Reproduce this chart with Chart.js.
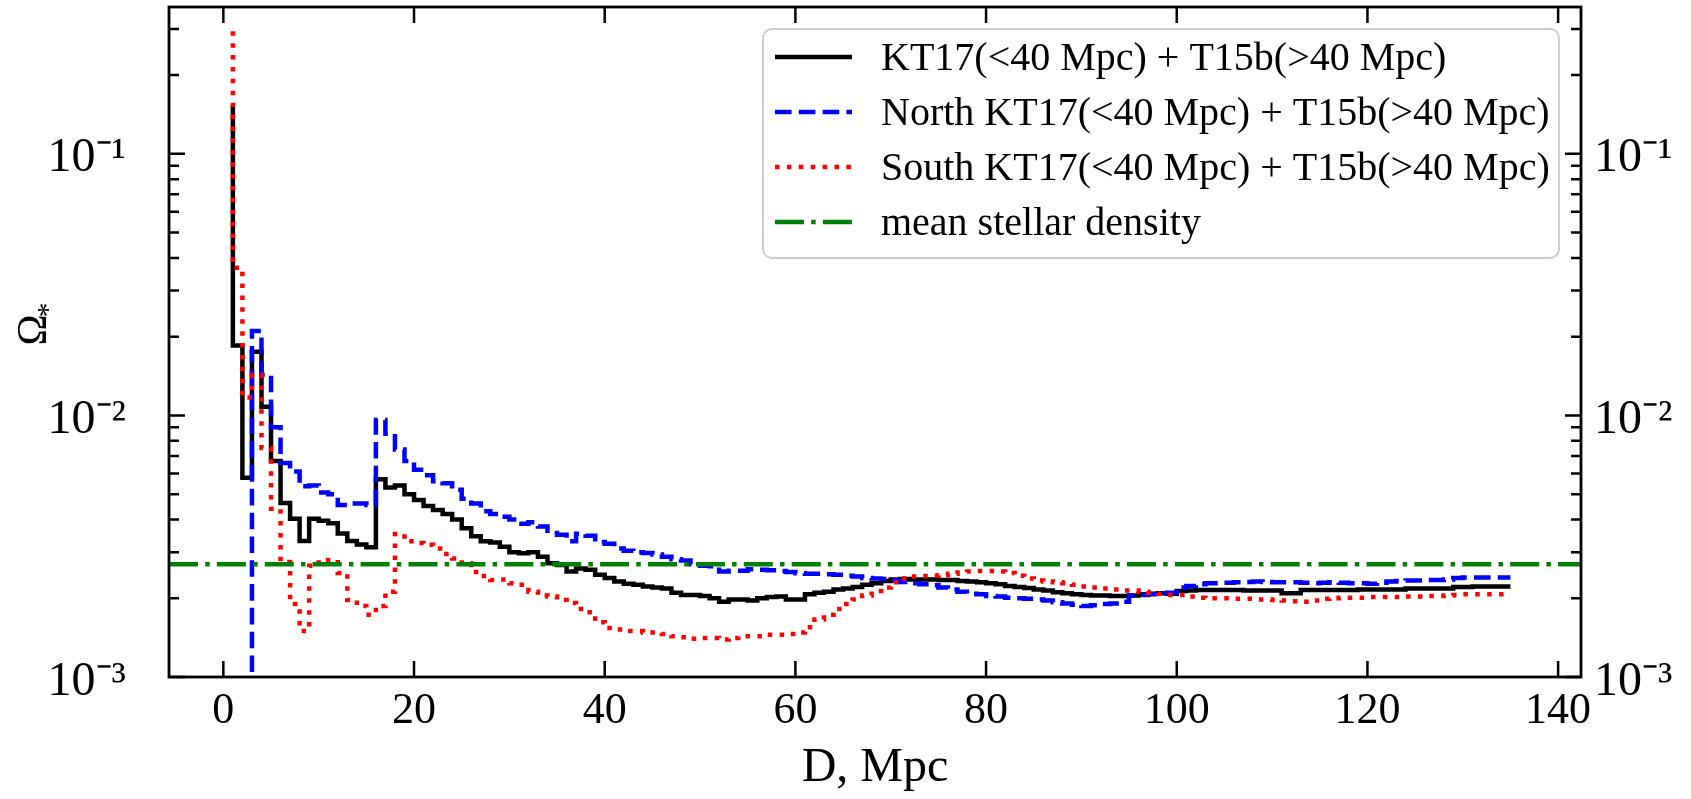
<!DOCTYPE html>
<html>
<head>
<meta charset="utf-8">
<script src="https://cdn.jsdelivr.net/npm/chart.js@4.4.0/dist/chart.umd.min.js"></script>
<style>
  html, body { margin: 0; padding: 0; background: #fff; }
  #densityChart { display: block; }
</style>
</head>
<body>
<canvas id="densityChart" width="1691" height="799"></canvas>
<script>
// distance bins, Mpc
const distances = [
  1, 2, 3, 4, 5, 6, 7, 8, 9, 10, 11, 12, 13, 14, 15, 16, 17, 18, 19, 20,
  21, 22, 23, 24, 25, 26, 27, 28, 29, 30, 31, 32, 33, 34, 35, 36, 37, 38, 39, 40,
  41, 42, 43, 44, 45, 46, 47, 48, 49, 50, 51, 52, 53, 54, 55, 56, 57, 58, 59, 60,
  61, 62, 63, 64, 65, 66, 67, 68, 69, 70, 71, 72, 73, 74, 75, 76, 77, 78, 79, 80,
  81, 82, 83, 84, 85, 86, 87, 88, 89, 90, 91, 92, 93, 94, 95, 96, 97, 98, 99, 100,
  101, 102, 103, 104, 105, 106, 107, 108, 109, 110, 111, 112, 113, 114, 115, 116, 117, 118, 119, 120,
  121, 122, 123, 124, 125, 126, 127, 128, 129, 130, 131, 132, 133, 134, 135
];

const allSky = [
  0.153, 0.0185, 0.00577, 0.0175, 0.0108, 0.0067, 0.00463, 0.00403, 0.00331, 0.00403,
  0.00396, 0.00387, 0.00354, 0.00331, 0.00321, 0.00313, 0.0057, 0.0053, 0.0054, 0.005,
  0.00475, 0.0045, 0.00435, 0.0042, 0.004, 0.0037, 0.00345, 0.0033, 0.00327, 0.00315,
  0.003, 0.00297, 0.003, 0.00288, 0.00272, 0.00268, 0.00253, 0.0026, 0.00257, 0.00246,
  0.00239, 0.00232, 0.00227, 0.00225, 0.00222, 0.0022, 0.00218, 0.0021, 0.00206, 0.00206,
  0.00204, 0.002, 0.00194, 0.00198, 0.00198, 0.00196, 0.002, 0.00202, 0.00203, 0.00198,
  0.00198, 0.00207, 0.0021, 0.00212, 0.00216, 0.00218, 0.00221, 0.00225, 0.00228, 0.00233,
  0.00236, 0.00237, 0.00236, 0.00236, 0.00236, 0.00235, 0.00235, 0.00233, 0.00232, 0.0023,
  0.00228, 0.00226, 0.00223, 0.00221, 0.00219, 0.00216, 0.00214, 0.00211, 0.00209, 0.00207,
  0.00206, 0.00205, 0.00205, 0.00204, 0.00204, 0.00205, 0.00207, 0.00208, 0.00209, 0.00208,
  0.00213, 0.00214, 0.00215, 0.00215, 0.00215, 0.00215, 0.00215, 0.00214, 0.00214, 0.00214,
  0.00214, 0.00209, 0.00209, 0.00215, 0.00215, 0.00215, 0.00215, 0.00215, 0.00215, 0.00216,
  0.00216, 0.00216, 0.00216, 0.00216, 0.00218, 0.00218, 0.00218, 0.00218, 0.00218, 0.00221,
  0.00221, 0.00222, 0.00222, 0.00222, 0.00222
];

// first bins of the north sample fall below the plotted range
const north = [
  0.0001, 0.0001, 0.0001, 0.021, 0.0143, 0.009, 0.00658, 0.0061, 0.00536, 0.0054,
  0.00507, 0.005, 0.00454, 0.0046, 0.0046, 0.00454, 0.0096, 0.0085, 0.0074, 0.0067,
  0.0062, 0.0059, 0.0056, 0.0055, 0.0052, 0.0048, 0.0046, 0.0043, 0.0042, 0.0041,
  0.004, 0.00385, 0.0039, 0.00376, 0.00355, 0.0035, 0.0033, 0.00353, 0.00347, 0.00328,
  0.00323, 0.0031, 0.00304, 0.003, 0.00298, 0.00294, 0.00288, 0.00282, 0.00279, 0.0027,
  0.00266, 0.00265, 0.00253, 0.00255, 0.00255, 0.00258, 0.00257, 0.00256, 0.00254, 0.00252,
  0.00249, 0.00248, 0.00248, 0.00247, 0.00246, 0.00244, 0.00242, 0.00239, 0.00238, 0.00237,
  0.00234, 0.00231, 0.00228, 0.00226, 0.00224, 0.0022, 0.00216, 0.00212, 0.00208, 0.00207,
  0.00204, 0.00203, 0.00201, 0.002, 0.00199, 0.00198, 0.00196, 0.00193, 0.00191, 0.00189,
  0.00187, 0.00188, 0.0019, 0.00191, 0.00194, 0.00205, 0.00206, 0.00207, 0.00209, 0.0021,
  0.0022, 0.00223, 0.00226, 0.00228, 0.00228, 0.00229, 0.0023, 0.00231, 0.00232, 0.00231,
  0.0023, 0.0023, 0.0023, 0.00229, 0.00228, 0.00229, 0.0023, 0.00229, 0.00228, 0.00228,
  0.00227, 0.00229, 0.00232, 0.00233, 0.00234, 0.00234, 0.00235, 0.00235, 0.00236, 0.00239,
  0.0024, 0.0024, 0.0024, 0.0024, 0.0024
];

const south = [
  0.294, 0.0367, 0.0117, 0.0143, 0.0075, 0.0044, 0.00275, 0.0019, 0.0015, 0.00266,
  0.0028, 0.0028, 0.0025, 0.00197, 0.00187, 0.00173, 0.00187, 0.00212, 0.00352, 0.0033,
  0.00325, 0.0032, 0.0031, 0.00295, 0.00284, 0.00272, 0.00252, 0.00243, 0.00235, 0.00236,
  0.00228, 0.00225, 0.00212, 0.00205, 0.00203, 0.00197, 0.00192, 0.00182, 0.00177, 0.00162,
  0.00154, 0.00152, 0.0015, 0.0015, 0.00148, 0.00148, 0.00146, 0.00143, 0.00142, 0.0014,
  0.00141, 0.00141, 0.00139, 0.00141, 0.00143, 0.00143, 0.00143, 0.00145, 0.00145, 0.00146,
  0.00148, 0.00155, 0.00166, 0.00173, 0.00182, 0.0019, 0.00198, 0.00205, 0.00213, 0.0022,
  0.0023, 0.00238, 0.00242, 0.00243, 0.00244, 0.00245, 0.00248, 0.00251, 0.00253, 0.00254,
  0.00254, 0.00253, 0.0025, 0.00244, 0.00238, 0.00234, 0.00232, 0.0023, 0.00228, 0.00225,
  0.00222, 0.0022, 0.00218, 0.00216, 0.00214, 0.00214, 0.00212, 0.0021, 0.00208, 0.00206,
  0.00206, 0.00203, 0.00201, 0.002, 0.002, 0.002, 0.00199, 0.00199, 0.00198, 0.00198,
  0.00197, 0.00196, 0.00195, 0.00194, 0.00196, 0.00199, 0.002, 0.00201, 0.00201, 0.00201,
  0.00202, 0.00202, 0.00202, 0.00202, 0.00203, 0.00203, 0.00204, 0.00204, 0.00205, 0.00206,
  0.00207, 0.00207, 0.00207, 0.00207, 0.00207
];

const meanStellar = 0.0027;

const seriesLabels = [
  'KT17(<40 Mpc) + T15b(>40 Mpc)',
  'North KT17(<40 Mpc) + T15b(>40 Mpc)',
  'South KT17(<40 Mpc) + T15b(>40 Mpc)',
  'mean stellar density'
];

const xTicks = [0, 20, 40, 60, 80, 100, 120, 140];
const yDecades = [0.001, 0.01, 0.1];
const yDecadeLabels = ['10⁻³', '10⁻²', '10⁻¹'];
const xLimits = [-5.7, 142.4];
const yLimits = [0.001, 0.364];

const serif = '"Liberation Serif", "Times New Roman", serif';
const LW = 4.5;

function pairs(ys) {
  return distances.map((d, i) => ({ x: d, y: ys[i] }));
}

function decadeLabel(v) {
  const i = yDecades.indexOf(v);
  return i >= 0 ? yDecadeLabels[i] : '';
}

const lineStyles = [
  { color: '#000000', dash: [] },
  { color: '#0000ff', dash: [16.6, 7.2] },
  { color: '#ff0000', dash: [4.5, 7.4] },
  { color: '#008000', dash: [29, 7.2, 4.5, 7.2] }
];

// inward ticks, frame, legend and the y label
const frame = {
  id: 'frame',
  afterDraw(chart) {
    const { ctx, chartArea: a, scales } = chart;
    const x = scales.x, y = scales.y;
    ctx.save();
    ctx.strokeStyle = '#000';
    ctx.lineWidth = 2.5;
    ctx.beginPath();
    xTicks.forEach(v => {
      const px = x.getPixelForValue(v);
      ctx.moveTo(px, a.bottom); ctx.lineTo(px, a.bottom - 16);
      ctx.moveTo(px, a.top); ctx.lineTo(px, a.top + 16);
    });
    yDecades.forEach(dec => {
      for (let k = 1; k <= 9; k++) {
        const v = k * dec;
        if (v > yLimits[1]) break;
        const py = y.getPixelForValue(v);
        const len = k === 1 ? 16 : 10;
        ctx.moveTo(a.left, py); ctx.lineTo(a.left + len, py);
        ctx.moveTo(a.right, py); ctx.lineTo(a.right - len, py);
      }
    });
    ctx.stroke();
    ctx.lineWidth = 2.8;
    ctx.strokeRect(a.left, a.top, a.right - a.left, a.bottom - a.top);

    // legend
    const bx = 763, by = 29, bw = 796, bh = 229, r = 9;
    ctx.beginPath();
    ctx.moveTo(bx + r, by);
    ctx.arcTo(bx + bw, by, bx + bw, by + bh, r);
    ctx.arcTo(bx + bw, by + bh, bx, by + bh, r);
    ctx.arcTo(bx, by + bh, bx, by, r);
    ctx.arcTo(bx, by, bx + bw, by, r);
    ctx.closePath();
    ctx.fillStyle = 'rgba(255,255,255,0.8)';
    ctx.fill();
    ctx.strokeStyle = '#cccccc';
    ctx.lineWidth = 2;
    ctx.stroke();

    const rows = [57, 112, 167, 222];
    ctx.font = '40px ' + serif;
    ctx.textBaseline = 'middle';
    ctx.textAlign = 'left';
    seriesLabels.forEach((label, i) => {
      const st = lineStyles[i];
      ctx.beginPath();
      ctx.strokeStyle = st.color;
      ctx.lineWidth = LW;
      ctx.lineCap = 'butt';
      ctx.setLineDash(st.dash);
      ctx.moveTo(775, rows[i]);
      ctx.lineTo(852, rows[i]);
      ctx.stroke();
      ctx.setLineDash([]);
      ctx.fillStyle = '#000';
      ctx.fillText(label, 881, rows[i] + 2);
    });

    // y axis label: Omega with a star subscript
    ctx.translate(35, 330);
    ctx.rotate(-Math.PI / 2);
    ctx.fillStyle = '#000';
    ctx.textAlign = 'center';
    ctx.font = '42px ' + serif;
    ctx.fillText('Ω', 0, 0);
    ctx.font = '30px ' + serif;
    ctx.fillText('*', 20, 14);
    ctx.restore();
  }
};

function makeSet(label, ys, i, order) {
  return {
    label,
    data: pairs(ys),
    borderColor: lineStyles[i].color,
    borderDash: lineStyles[i].dash,
    borderWidth: LW,
    borderCapStyle: 'butt',
    borderJoinStyle: 'miter',
    stepped: 'after',
    pointRadius: 0,
    fill: false,
    order
  };
}

const datasets = [
  makeSet(seriesLabels[0], allSky, 0, 3),
  makeSet(seriesLabels[1], north, 1, 2),
  makeSet(seriesLabels[2], south, 2, 1),
  {
    label: seriesLabels[3],
    data: [{ x: xLimits[0], y: meanStellar }, { x: xLimits[1], y: meanStellar }],
    borderColor: lineStyles[3].color,
    borderDash: lineStyles[3].dash,
    borderWidth: LW,
    borderCapStyle: 'butt',
    pointRadius: 0,
    fill: false,
    order: 0
  }
];

const yTickOpts = (pad) => ({
  callback: v => decadeLabel(v),
  font: { family: serif, size: 48 },
  color: '#000',
  padding: pad,
  labelOffset: 5,
  autoSkip: false
});

function fixWidth(w) {
  return s => { s.width = w; s.paddingTop = 0; s.paddingBottom = 0; };
}

new Chart(document.getElementById('densityChart'), {
  type: 'line',
  data: { datasets },
  options: {
    responsive: false,
    animation: false,
    devicePixelRatio: 1,
    layout: { padding: { top: 7, left: 0, right: 0, bottom: 0 } },
    plugins: { legend: { display: false }, tooltip: { enabled: false } },
    scales: {
      x: {
        type: 'linear',
        min: xLimits[0],
        max: xLimits[1],
        afterBuildTicks: s => { s.ticks = xTicks.map(v => ({ value: v })); },
        ticks: { font: { family: serif, size: 44 }, color: '#000', padding: 8, maxRotation: 0, autoSkip: false },
        grid: { display: false, drawTicks: false },
        border: { display: false },
        title: { display: true, text: 'D, Mpc', font: { family: serif, size: 48 }, color: '#000', padding: { top: 0, bottom: 2 } },
        afterFit: s => { s.height = 122; s.paddingLeft = 0; s.paddingRight = 0; }
      },
      y: {
        type: 'logarithmic',
        position: 'left',
        min: yLimits[0],
        max: yLimits[1],
        afterBuildTicks: s => { s.ticks = yDecades.map(v => ({ value: v })); },
        ticks: yTickOpts(43),
        grid: { display: false, drawTicks: false },
        border: { display: false },
        afterFit: fixWidth(169)
      },
      y2: {
        type: 'logarithmic',
        position: 'right',
        min: yLimits[0],
        max: yLimits[1],
        afterBuildTicks: s => { s.ticks = yDecades.map(v => ({ value: v })); },
        ticks: yTickOpts(13),
        grid: { display: false, drawTicks: false },
        border: { display: false },
        afterFit: fixWidth(110)
      }
    }
  },
  plugins: [frame]
});
</script>
</body>
</html>
